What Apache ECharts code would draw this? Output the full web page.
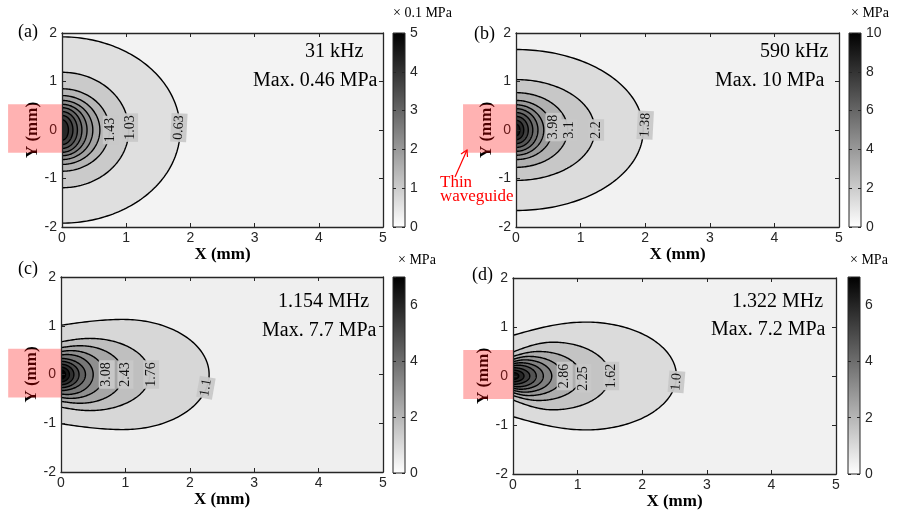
<!DOCTYPE html>
<html><head><meta charset="utf-8">
<script src="https://cdn.jsdelivr.net/npm/echarts@6.0.0/dist/echarts.min.js"></script>
<style>html,body{margin:0;padding:0;background:#fff}#c{width:906px;height:512px}</style>
</head><body><div id="c"></div><script>
// ---------------- data ----------------
// contour shape: [x reach on y=0, half-height at x=0, max half-height, x of max half-height]  (mm)
// (a) 31 kHz, colour unit 0.1 MPa
const bgLevelA = 0.23;
const levelsA = [0.63, 1.03, 1.43, 1.83, 2.23, 2.63, 3.03, 3.43, 3.83, 4.23];
const shapesA = [[1.84,1.92,1.92,0],[1.04,1.19,1.19,0],[0.74,0.85,0.85,0],[0.59,0.71,0.71,0],[0.48,0.61,0.61,0],[0.39,0.53,0.53,0],[0.31,0.46,0.46,0],[0.24,0.38,0.38,0],[0.17,0.30,0.30,0],[0.10,0.21,0.21,0]];
const labelTextA = ['1.43','1.03','0.63'];
const labelPosA = [[0.76,0.0],[1.06,0.05],[1.82,0.05]];
const labelAngleA = [90,90,87];
// (b) 590 kHz, colour unit MPa
const bgLevelB = 0.5;
const levelsB = [1.38, 2.2, 3.1, 3.98, 4.86, 5.74, 6.62, 7.5, 8.38, 9.26];
const shapesB = [[1.97,1.66,1.66,0],[1.22,1.04,1.04,0],[0.80,0.77,0.77,0],[0.56,0.61,0.61,0],[0.43,0.52,0.52,0],[0.34,0.44,0.44,0],[0.26,0.36,0.36,0],[0.19,0.28,0.28,0],[0.12,0.20,0.20,0],[0.06,0.12,0.12,0]];
const labelTextB = ['3.98','3.1','2.2','1.38'];
const labelPosB = [[0.58,0.06],[0.82,0.0],[1.24,0.0],[2.0,0.1]];
const labelAngleB = [90,90,90,87];
// (c) 1.154 MHz
const bgLevelC = 0.44;
const levelsC = [1.1, 1.76, 2.43, 3.08, 3.74, 4.4, 5.06, 5.72, 6.38, 7.04];
const shapesC = [[2.30,1.01,1.13,0.97],[1.38,0.67,0.74,0.45],[0.97,0.55,0.59,0.30],[0.68,0.47,0.49,0.15],[0.50,0.40,0.41,0.10],[0.38,0.33,0.33,0],[0.28,0.27,0.27,0],[0.20,0.21,0.21,0],[0.13,0.15,0.15,0],[0.07,0.09,0.09,0]];
const labelTextC = ['3.08','2.43','1.76','1.1'];
const labelPosC = [[0.71,0.0],[1.0,0.0],[1.40,0.0],[2.25,-0.27]];
const labelAngleC = [90,90,90,80];
// (d) 1.322 MHz
const bgLevelD = 0.38;
const levelsD = [1.0, 1.62, 2.25, 2.86, 3.48, 4.1, 4.72, 5.34, 5.96, 6.58];
const shapesD = [[2.53,0.83,1.10,1.13],[1.50,0.49,0.69,0.62],[1.05,0.40,0.50,0.40],[0.77,0.34,0.40,0.25],[0.60,0.29,0.33,0.18],[0.47,0.25,0.27,0.12],[0.36,0.21,0.22,0.08],[0.26,0.17,0.17,0],[0.17,0.12,0.12,0],[0.09,0.07,0.07,0]];
const labelTextD = ['2.86','2.25','1.62','1.0'];
const labelPosD = [[0.80,0.0],[1.09,-0.05],[1.52,0.0],[2.53,-0.12]];
const labelAngleD = [90,90,90,85];
// thin waveguide extent (mm): x start per panel, y range
const waveguideX0 = [-0.84, -0.82, -0.82, -0.77];
const waveguideY = [-0.47, 0.53];
// colour bars
const cbMax = [5, 10, 7, 7];
const cbInterval = [1, 2, 2, 2];
const cbShowMax = [true, true, false, false];
const cbTitles = ['\u00d7 0.1 MPa', '\u00d7 MPa', '\u00d7 MPa', '\u00d7 MPa'];
const panelTags = ['(a)', '(b)', '(c)', '(d)'];
const freqTexts = ['31 kHz', '590 kHz', '1.154 MHz', '1.322 MHz'];
const maxTexts = ['Max. 0.46 MPa', 'Max. 10 MPa', 'Max. 7.7 MPa', 'Max. 7.2 MPa'];

// ---------------- layout ----------------
const layout = [
  {grid:{left:62,top:33,width:321,height:194}, cb:{left:393,top:33,width:12,height:194},
   tag:[18,33], freq:[305,53], max:[253,82], cbt:[393,14]},
  {grid:{left:516,top:33,width:323,height:194}, cb:{left:849,top:33,width:12,height:194},
   tag:[474,35], freq:[760,53], max:[715,82], cbt:[851,14]},
  {grid:{left:61,top:277,width:322,height:195}, cb:{left:393,top:277,width:12,height:196},
   tag:[18,270], freq:[278,303], max:[262,332], cbt:[398,261]},
  {grid:{left:513,top:278,width:323,height:196}, cb:{left:848,top:277,width:12,height:197},
   tag:[472,276], freq:[732,303], max:[711,331], cbt:[850,261]}
];
const panelData = [
  {bg:bgLevelA, levels:levelsA, shapes:shapesA, lt:labelTextA, lp:labelPosA, la:labelAngleA},
  {bg:bgLevelB, levels:levelsB, shapes:shapesB, lt:labelTextB, lp:labelPosB, la:labelAngleB},
  {bg:bgLevelC, levels:levelsC, shapes:shapesC, lt:labelTextC, lp:labelPosC, la:labelAngleC},
  {bg:bgLevelD, levels:levelsD, shapes:shapesD, lt:labelTextD, lp:labelPosD, la:labelAngleD}
];

const AX = '#262626';
const SERIF = '"Liberation Serif", "Times New Roman", serif';
const SANS = '"Liberation Sans", Arial, sans-serif';

function gray(v, max) {
  let g = Math.round(255 * (1 - v / max));
  g = Math.max(0, Math.min(255, g));
  return 'rgb(' + g + ',' + g + ',' + g + ')';
}
function upperPts(a, y0, ym, xm) {
  const pts = [];
  if (xm > 0) {
    for (let k = 0; k < 24; k++) { const s = k / 24; pts.push([xm * s, y0 + (ym - y0) * Math.sin(Math.PI / 2 * s)]); }
  }
  for (let k = 0; k <= 60; k++) { const t = k / 60 * Math.PI / 2; pts.push([xm + (a - xm) * Math.sin(t), ym * Math.cos(t)]); }
  return pts;
}

const grids = [], xAxes = [], yAxes = [], series = [], graphics = [];
const axLine = {show:true, onZero:false, lineStyle:{color:AX, width:1.3}};
const axTick = {show:true, inside:true, length:4, lineStyle:{color:AX, width:1}};

layout.forEach((L, i) => {
  const D = panelData[i];
  const gi = grids.length;
  grids.push(Object.assign({show:true, backgroundColor: gray(D.bg, cbMax[i]), borderWidth:0, outerBoundsMode:'none', containLabel:false}, L.grid));
  const cgi = grids.length;
  grids.push(Object.assign({show:false, outerBoundsMode:'none', containLabel:false}, L.cb));

  const xb = xAxes.length;
  xAxes.push({type:'value', gridIndex:gi, position:'bottom', min:0, max:5, interval:1, z:4,
    axisLine:axLine, axisTick:axTick, splitLine:{show:false},
    axisLabel:{show:true, color:AX, fontFamily:SANS, fontSize:14, margin:4, showMinLabel:true, showMaxLabel:true},
    name:'X (mm)', nameLocation:'middle', nameGap:19,
    nameTextStyle:{fontFamily:SERIF, fontWeight:'bold', fontSize:17, color:'#000'}});
  xAxes.push({type:'value', gridIndex:gi, position:'top', min:0, max:5, interval:1, z:4,
    axisLine:axLine, axisTick:axTick, splitLine:{show:false}, axisLabel:{show:false}});
  const xc = xAxes.length;
  xAxes.push({type:'value', gridIndex:cgi, min:0, max:1, show:false});

  const yl = yAxes.length;
  yAxes.push({type:'value', gridIndex:gi, position:'left', min:-2, max:2, interval:1, z:4,
    axisLine:axLine, axisTick:axTick, splitLine:{show:false},
    axisLabel:{show:true, color:AX, fontFamily:SANS, fontSize:14, margin:5, showMinLabel:true, showMaxLabel:true},
    name:'Y (mm)', nameLocation:'middle', nameGap:14, nameRotate:90,
    nameTextStyle:{fontFamily:SERIF, fontWeight:'bold', fontSize:17, color:'#000'}});
  yAxes.push({type:'value', gridIndex:gi, position:'right', min:-2, max:2, interval:1, z:4,
    axisLine:axLine, axisTick:axTick, splitLine:{show:false}, axisLabel:{show:false}});
  const yc = yAxes.length;
  yAxes.push({type:'value', gridIndex:cgi, position:'right', min:0, max:cbMax[i], interval:cbInterval[i], z:4,
    axisLine:{show:false, onZero:false}, axisTick:{show:true, inside:true, length:3, lineStyle:{color:AX}}, splitLine:{show:false},
    axisLabel:{show:true, color:AX, fontFamily:SANS, fontSize:14, margin:5, showMinLabel:true, showMaxLabel:cbShowMax[i]}});
  yAxes.push({type:'value', gridIndex:cgi, position:'left', min:0, max:cbMax[i], interval:cbInterval[i], z:4,
    axisLine:{show:false, onZero:false}, axisTick:{show:true, inside:true, length:3, lineStyle:{color:AX}}, splitLine:{show:false},
    axisLabel:{show:false}});

  // filled contours
  series.push({type:'custom', xAxisIndex:xb, yAxisIndex:yl, clip:true, z:1, silent:true,
    data: D.levels.map((l, k) => [k, 0]),
    renderItem: (params, api) => {
      const k = params.dataIndex;
      const s = D.shapes[k];
      const pts = upperPts(s[0], s[1], s[2], s[3]);
      const up = pts.map(p => api.coord(p));
      const lo = pts.slice().reverse().map(p => api.coord([p[0], -p[1]]));
      const curve = up.concat(lo);
      return {type:'group', children:[
        {type:'polygon', shape:{points:curve}, style:{fill:gray(D.levels[k], cbMax[i]), stroke:null}},
        {type:'polyline', shape:{points:curve}, style:{stroke:'#000', lineWidth:1.4, fill:null}}
      ]};
    }});
  // contour labels
  series.push({type:'custom', xAxisIndex:xb, yAxisIndex:yl, clip:false, z:3, silent:true,
    data: D.lt.map((t, k) => [k, 0]),
    renderItem: (params, api) => {
      const k = params.dataIndex;
      const c = api.coord(D.lp[k]);
      return {type:'text', x:c[0], y:c[1], rotation:D.la[k] * Math.PI / 180,
        style:{text:D.lt[k], fontFamily:SERIF, fontSize:14, fill:'#111', align:'center', verticalAlign:'middle',
          backgroundColor:'rgba(200,200,200,0.95)', padding:[1,2,1,2]}};
    }});
  // thin waveguide (pink)
  series.push({type:'custom', xAxisIndex:xb, yAxisIndex:yl, clip:false, z:10, silent:true,
    data: [[0, 0]],
    renderItem: (params, api) => {
      const p1 = api.coord([waveguideX0[i], waveguideY[1]]);
      const p2 = api.coord([0, waveguideY[0]]);
      return {type:'rect', shape:{x:p1[0], y:p1[1], width:p2[0] - p1[0], height:p2[1] - p1[1]},
        style:{fill:'rgba(255,0,0,0.3)'}};
    }});
  // colour bar
  series.push({type:'custom', xAxisIndex:xc, yAxisIndex:yc, clip:false, z:2, silent:true,
    data: [[0, 0]],
    renderItem: (params, api) => {
      const p1 = api.coord([0, cbMax[i]]);
      const p2 = api.coord([1, 0]);
      return {type:'rect', shape:{x:p1[0], y:p1[1], width:p2[0] - p1[0], height:p2[1] - p1[1]},
        style:{fill:new echarts.graphic.LinearGradient(0, 0, 0, 1, [{offset:0, color:'#000'}, {offset:1, color:'#fff'}]),
          stroke:AX, lineWidth:1}};
    }});

  graphics.push({type:'text', left:L.tag[0], top:L.tag[1] - 10, style:{text:panelTags[i], font:'18px ' + SERIF, fill:'#000'}});
  graphics.push({type:'text', left:L.freq[0], top:L.freq[1] - 11, style:{text:freqTexts[i], font:'20px ' + SERIF, fill:'#000'}});
  graphics.push({type:'text', left:L.max[0], top:L.max[1] - 11, style:{text:maxTexts[i], font:'20px ' + SERIF, fill:'#000'}});
  graphics.push({type:'text', left:L.cbt[0], top:L.cbt[1] - 8, style:{text:cbTitles[i], font:'14px ' + SERIF, fill:'#000'}});
});

// thin waveguide annotation
graphics.push({type:'text', left:440, top:174, style:{text:'Thin', font:'17px ' + SERIF, fill:'#ff0000'}});
graphics.push({type:'text', left:440, top:188, style:{text:'waveguide', font:'17px ' + SERIF, fill:'#ff0000'}});
graphics.push({type:'polyline', shape:{points:[[455,177],[467,150]]}, style:{stroke:'#ff0000', lineWidth:1.2}});
graphics.push({type:'polyline', shape:{points:[[461,154],[467,150],[467.5,157]]}, style:{stroke:'#ff0000', lineWidth:1.2, fill:null}});

const chart = echarts.init(document.getElementById('c'), null, {renderer:'canvas'});
chart.setOption({
  animation:false,
  backgroundColor:'#ffffff',
  grid:grids, xAxis:xAxes, yAxis:yAxes, series:series, graphic:graphics
});
</script></body></html>
